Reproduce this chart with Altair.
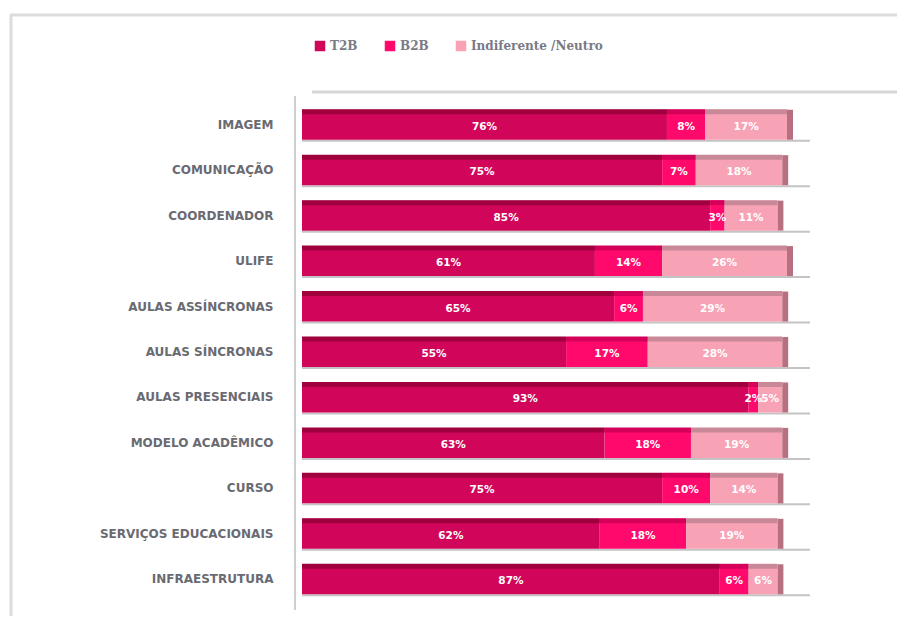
import altair as alt
import pandas as pd

categories = ["IMAGEM", "COMUNICAÇÃO", "COORDENADOR", "ULIFE", "AULAS ASSÍNCRONAS",
              "AULAS SÍNCRONAS", "AULAS PRESENCIAIS", "MODELO ACADÊMICO", "CURSO",
              "SERVIÇOS EDUCACIONAIS", "INFRAESTRUTURA"]
series = ["T2B", "B2B", "Indiferente /Neutro"]
t2b = [76, 75, 85, 61, 65, 55, 93, 63, 75, 62, 87]
b2b = [8, 7, 3, 14, 6, 17, 2, 18, 10, 18, 6]
neutro = [17, 18, 11, 26, 29, 28, 5, 19, 14, 19, 6]

colors = ["#d1065a", "#ff0a6c", "#f8a2b6"]
top_colors = ["#a0003e", "#d4005a", "#c98897"]

rows = []
for i, c in enumerate(categories):
    start = 0
    for s, vals in zip(series, [t2b, b2b, neutro]):
        v = vals[i]
        rows.append({"cat": c, "series": s, "value": v, "start": start, "end": start + v,
                     "mid": start + v / 2, "label": f"{v}%"})
        start += v
df = pd.DataFrame(rows)
tot = pd.DataFrame({"cat": categories,
                    "total": [a + b + n for a, b, n in zip(t2b, b2b, neutro)]})

W, H = 485, 500
yenc = alt.Y("cat:N", sort=categories, title=None,
             axis=alt.Axis(domain=False, ticks=False, labelPadding=29,
                           labelFont="DejaVu Sans", labelFontWeight="bold",
                           labelFontSize=12, labelColor="#6a6a72"),
             scale=alt.Scale(paddingInner=0.34, paddingOuter=0.17))
xscale = alt.Scale(domain=[0, 101], nice=False)
xenc = alt.X("start:Q", scale=xscale, axis=None, title=None)

base = alt.Chart(df)
one = alt.Chart(tot.head(1))

frame_left = one.mark_rule(color="#dcdcdc", strokeWidth=3).encode(
    x=alt.value(-291), y=alt.value(-87), y2=alt.value(520))
frame_top = one.mark_rule(color="#dcdcdc", strokeWidth=3).encode(
    x=alt.value(-292), x2=alt.value(600), y=alt.value(-87))
back_top = one.mark_rule(color="#d6d6d6", strokeWidth=3).encode(
    x=alt.value(10), x2=alt.value(595), y=alt.value(-10))

floor = alt.Chart(tot).mark_rule(color="#c4c4c4", strokeWidth=2, yOffset=16).encode(
    y=yenc, x=alt.value(0), x2=alt.value(508))

wall = one.mark_rule(color="#cfcfcf", strokeWidth=2).encode(
    x=alt.value(-7), y=alt.value(-6), y2=alt.value(508))

side = alt.Chart(tot).mark_bar(color="#b7707f", x2Offset=6, size=30).encode(
    y=yenc, x=alt.X("total:Q", scale=xscale, axis=None), x2="total:Q")

bars = base.mark_bar(size=30).encode(
    y=yenc, x=xenc, x2="end:Q",
    color=alt.Color("series:N", sort=series,
                    scale=alt.Scale(domain=series, range=colors),
                    legend=alt.Legend(title=None, orient="none", direction="horizontal",
                                      legendX=12, legendY=-62, symbolType="square",
                                      symbolSize=110, symbolStrokeWidth=0,
                                      labelFont="DejaVu Serif", labelFontWeight="bold",
                                      labelFontSize=12, labelColor="#7a7a85",
                                      columnPadding=26, symbolOffset=0)))

tops = base.mark_bar(size=5, yOffset=-13).encode(
    y=yenc, x=xenc, x2="end:Q",
    color=alt.Color("series:N", sort=series,
                    scale=alt.Scale(domain=series, range=top_colors), legend=None))

labels = base.mark_text(color="white", font="DejaVu Sans", fontWeight="bold",
                        fontSize=10.5, dy=2).encode(
    y=yenc, x=alt.X("mid:Q", scale=xscale, axis=None), text="label:N")

chart = alt.layer(frame_left, frame_top, back_top, wall, floor, side, bars, tops,
                  labels).resolve_scale(color="independent").properties(
    width=W, height=H,
    autosize=alt.AutoSizeParams(type="none"),
    padding={"left": 294, "top": 94, "right": 110, "bottom": 14},
    background="white",
).configure_view(stroke=None)

chart.save("out.html", embed_options={"renderer": "svg", "actions": False})
